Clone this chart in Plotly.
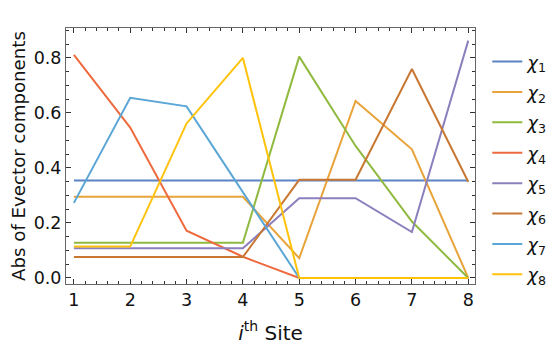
import plotly.graph_objects as go

# site index and |eigenvector| components
sites = [1, 2, 3, 4, 5, 6, 7, 8]
chi1 = [0.354, 0.354, 0.354, 0.354, 0.354, 0.354, 0.354, 0.354]
chi2 = [0.295, 0.295, 0.295, 0.295, 0.072, 0.644, 0.468, 0.0]
chi3 = [0.128, 0.128, 0.128, 0.128, 0.805, 0.48, 0.205, 0.0]
chi4 = [0.811, 0.547, 0.172, 0.077, 0.0, 0.0, 0.0, 0.0]
chi5 = [0.108, 0.108, 0.108, 0.108, 0.29, 0.29, 0.167, 0.863]
chi6 = [0.076, 0.076, 0.076, 0.076, 0.357, 0.357, 0.76, 0.35]
chi7 = [0.273, 0.655, 0.624, 0.31, 0.0, 0.0, 0.0, 0.0]
chi8 = [0.114, 0.114, 0.562, 0.80, 0.0, 0.0, 0.0, 0.0]

series = [chi1, chi2, chi3, chi4, chi5, chi6, chi7, chi8]
colors = ["#5b84c4", "#e8a33a", "#8fba3f", "#ee6a3e",
          "#8c7fbd", "#c87833", "#5aa6d6", "#ffc20a"]

fig = go.Figure()
for k, (vals, c) in enumerate(zip(series, colors)):
    fig.add_trace(go.Scatter(x=sites, y=vals, mode="lines",
                             line=dict(color=c, width=2),
                             name=f"<i>χ</i><sub>{k + 1}</sub>",
                             legendgroup=f"g{k}"))

axis_style = dict(showline=True, linecolor="#666", linewidth=1, mirror="allticks",
                  ticks="inside", ticklen=5, tickcolor="#333", showgrid=False,
                  zeroline=False, automargin=False,
                  tickfont=dict(family="DejaVu Sans", size=17.5, color="#111"))

fig.update_xaxes(range=[0.86, 8.12], dtick=1, tick0=1,
                 minor=dict(dtick=0.2, ticks="inside", ticklen=3, tickcolor="#333"),
                 title=dict(text="<i>i</i><sup>th</sup> Site",
                            font=dict(family="DejaVu Sans", size=20, color="#111"),
                            standoff=16),
                 **axis_style)
fig.update_yaxes(range=[-0.022, 0.909], dtick=0.2, tick0=0, tickformat=".1f",
                 minor=dict(dtick=0.05, ticks="inside", ticklen=3, tickcolor="#333"),
                 title=dict(text="Abs of Evector components",
                            font=dict(family="DejaVu Sans", size=18.2, color="#111"),
                            standoff=16),
                 **axis_style)

# the page body adds an 8px offset, so margins are shifted to compensate
fig.update_layout(
    width=556, height=347,
    margin=dict(l=58, r=86, t=20, b=71),
    plot_bgcolor="white", paper_bgcolor="white",
    font=dict(family="DejaVu Sans"),
    legend=dict(x=1.03, y=0.94, xanchor="left", yanchor="top",
                font=dict(family="DejaVu Sans", size=18, color="#111"), tracegroupgap=4,
                itemwidth=30, maxheight=330, bgcolor="rgba(0,0,0,0)"),
)

fig.write_html("out.html")
